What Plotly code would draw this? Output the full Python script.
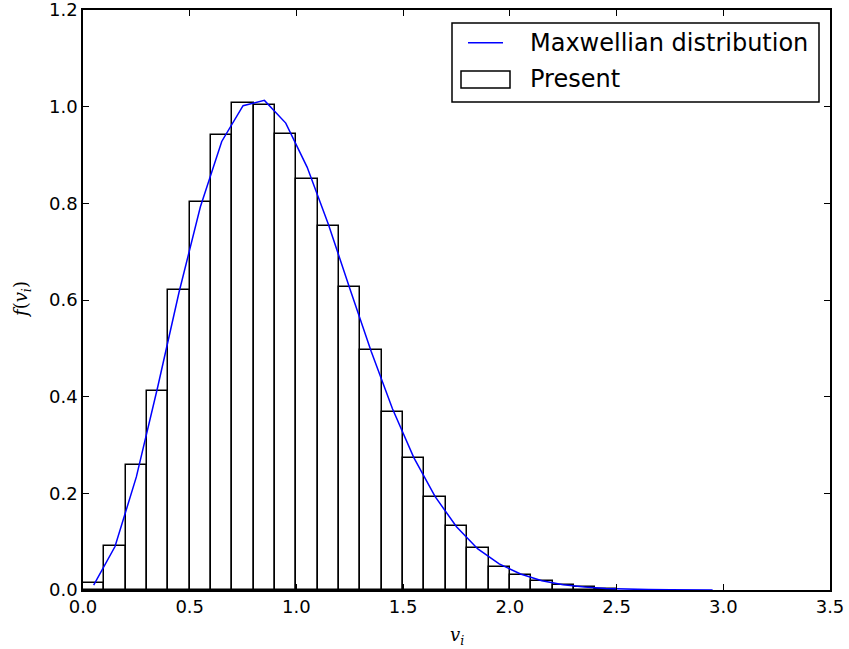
import plotly.graph_objects as go

# Histogram bins (centers, width 0.1) and heights
bin_centers = [0.05, 0.15, 0.25, 0.35, 0.45, 0.55, 0.65, 0.75, 0.85, 0.95,
               1.05, 1.15, 1.25, 1.35, 1.45, 1.55, 1.65, 1.75, 1.85, 1.95,
               2.05, 2.15, 2.25, 2.35, 2.45]
present = [0.0135, 0.091, 0.258, 0.411, 0.621, 0.802, 0.942, 1.007, 1.004, 0.944,
           0.851, 0.754, 0.626, 0.496, 0.369, 0.274, 0.193, 0.132, 0.087, 0.048,
           0.031, 0.018, 0.011, 0.006, 0.003]

# Maxwellian curve (read at bin centers)
v_line = [0.05, 0.15, 0.25, 0.35, 0.45, 0.55, 0.65, 0.75, 0.85, 0.95,
          1.05, 1.15, 1.25, 1.35, 1.45, 1.55, 1.65, 1.75, 1.85, 1.95,
          2.05, 2.15, 2.25, 2.35, 2.45, 2.55, 2.65, 2.75, 2.85, 2.95]
maxwell = [0.010, 0.090, 0.234, 0.420, 0.616, 0.793, 0.928, 1.002, 1.013, 0.966,
           0.875, 0.756, 0.624, 0.494, 0.375, 0.274, 0.193, 0.131, 0.085, 0.054,
           0.033, 0.019, 0.011, 0.006, 0.003, 0.0016, 0.0008, 0.0004, 0.0002, 0.0001]

x_ticks = [0.0, 0.5, 1.0, 1.5, 2.0, 2.5, 3.0, 3.5]
y_ticks = [0.0, 0.2, 0.4, 0.6, 0.8, 1.0, 1.2]

fig = go.Figure()
fig.add_trace(go.Bar(x=bin_centers, y=present, width=0.1, name="Present",
                     marker=dict(color="white", line=dict(color="black", width=1.5)),
                     showlegend=False))
fig.add_trace(go.Scatter(x=v_line, y=maxwell, mode="lines", name="Maxwellian distribution",
                         line=dict(color="#0000ff", width=1.5), showlegend=False))

W, H = 849, 649
L, R, T, B = 83, 830, 10, 590

def px(x):
    return (x - L) / (R - L)

def py(y):
    return (B - y) / (B - T)

shapes = [
    # legend frame
    dict(type="rect", xref="paper", yref="paper", x0=px(452), x1=px(819), y0=py(102), y1=py(23),
         line=dict(color="black", width=1.5), fillcolor="white", layer="above"),
    # line sample
    dict(type="line", xref="paper", yref="paper", x0=px(468), x1=px(503), y0=py(42.7), y1=py(42.7),
         line=dict(color="#0000ff", width=1.5), layer="above"),
    # patch sample
    dict(type="rect", xref="paper", yref="paper", x0=px(461), x1=px(510), y0=py(88), y1=py(71),
         line=dict(color="black", width=1.5), fillcolor="white", layer="above"),
]

annotations = [
    dict(text="Maxwellian distribution", xref="paper", yref="paper", x=px(528), y=py(43),
         xanchor="left", yanchor="middle", showarrow=False,
         font=dict(family="DejaVu Sans", size=24, color="black")),
    dict(text="Present", xref="paper", yref="paper", x=px(528), y=py(79),
         xanchor="left", yanchor="middle", showarrow=False,
         font=dict(family="DejaVu Sans", size=24, color="black")),
    dict(text="<i>v<sub>i</sub></i>", xref="paper", yref="paper", x=px(457), y=py(636),
         xanchor="center", yanchor="middle", showarrow=False,
         font=dict(family="DejaVu Serif", size=18, color="black")),
    dict(text="<i>f</i>(<i>v<sub>i</sub></i>)", xref="paper", yref="paper", x=px(22), y=py(300),
         xanchor="center", yanchor="middle", showarrow=False, textangle=-90,
         font=dict(family="DejaVu Serif", size=18, color="black")),
]

fig.update_layout(
    width=W, height=H,
    margin=dict(l=L, r=W - R, t=T, b=H - B, pad=0, autoexpand=False),
    paper_bgcolor="white", plot_bgcolor="white",
    bargap=0,
    shapes=shapes, annotations=annotations,
    font=dict(family="DejaVu Sans", size=18, color="black"),
)
fig.update_xaxes(range=[0, 3.5], tickvals=x_ticks, tickformat=".1f", automargin=False,
                 ticklabeloverflow="allow",
                 showgrid=False, zeroline=False, showline=True, linecolor="black", linewidth=1.5,
                 mirror="ticks", ticks="inside", ticklen=6, tickwidth=1, tickcolor="black",
                 tickfont=dict(family="DejaVu Sans", size=18, color="black"))
fig.update_yaxes(range=[0, 1.2], tickvals=y_ticks, tickformat=".1f", automargin=False,
                 ticklabeloverflow="allow",
                 showgrid=False, zeroline=False, showline=True, linecolor="black", linewidth=1.5,
                 mirror="ticks", ticks="inside", ticklen=6, tickwidth=1, tickcolor="black",
                 tickfont=dict(family="DejaVu Sans", size=18, color="black"))

fig.write_html("out.html")
